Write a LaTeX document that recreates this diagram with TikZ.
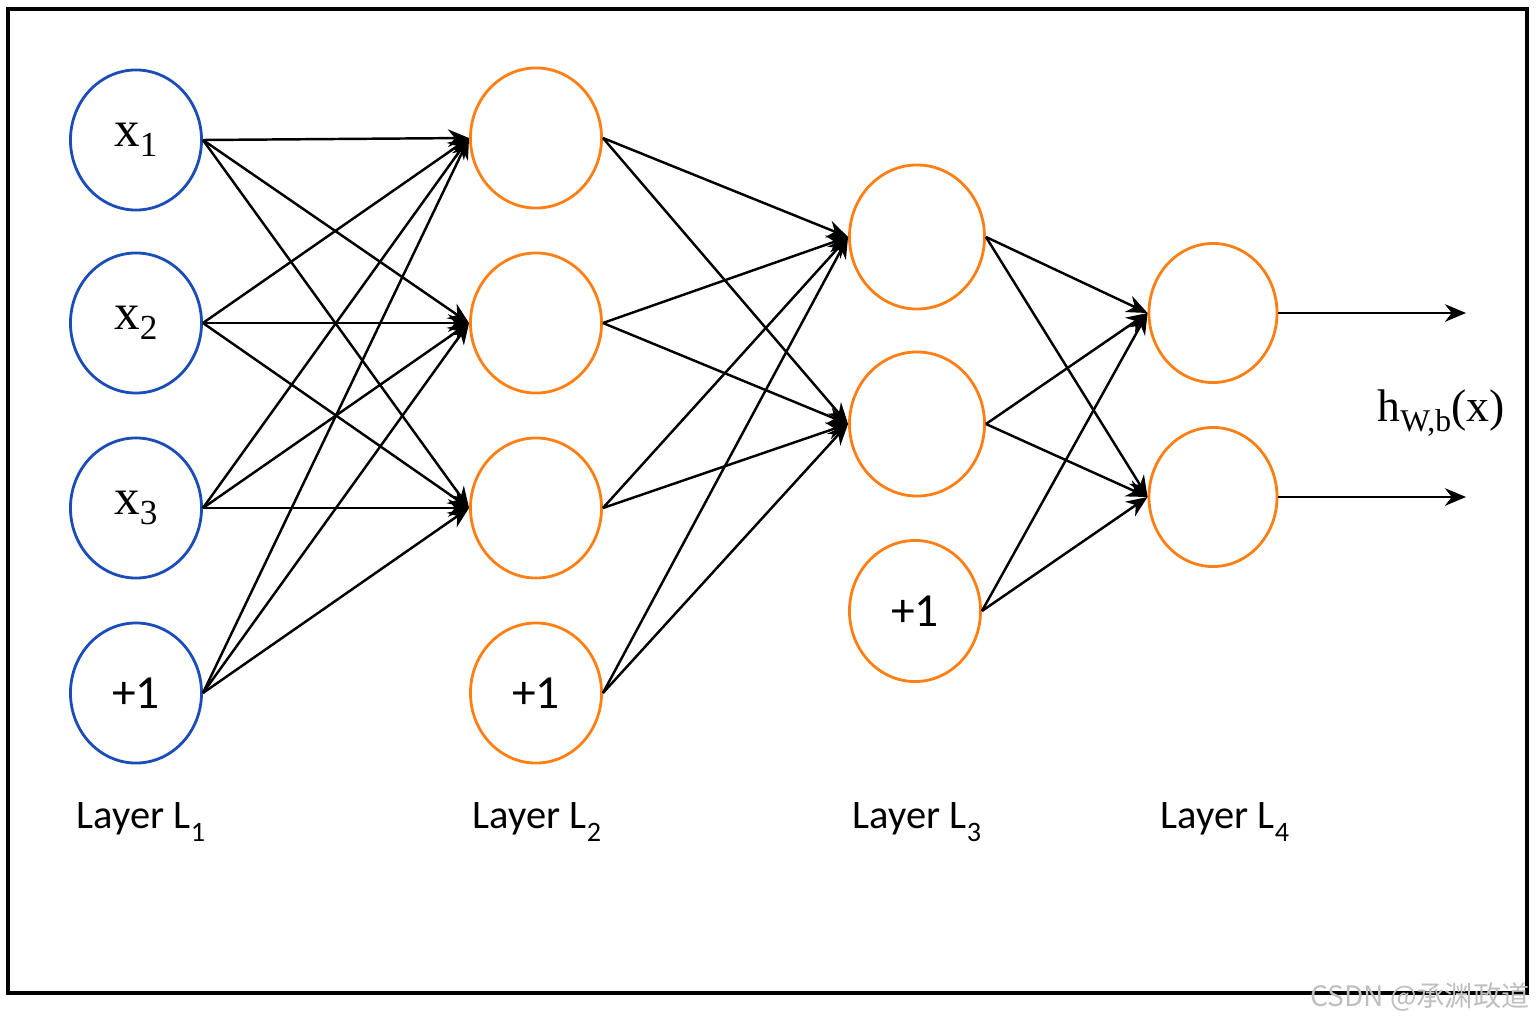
\documentclass[tikz,border=0pt]{standalone}
\usepackage{fontspec}
\setmainfont{Carlito}
\newfontfamily\seriffont{Liberation Serif}
\newfontfamily\cjkfont{Noto Sans CJK SC}
\usetikzlibrary{shapes.geometric,arrows.meta}
\definecolor{nblue}{HTML}{1A4DB8}
\definecolor{norange}{HTML}{FF7F14}
\newcommand{\xin}[1]{{\seriffont\fontsize{14.5}{17}\selectfont x\raisebox{-2.8pt}{\fontsize{10}{12}\selectfont #1}}}
\newcommand{\lay}[1]{\fontsize{11.5}{13}\selectfont Layer L\raisebox{-3.8pt}{\fontsize{8}{9}\selectfont #1}}
\begin{document}
\begin{tikzpicture}[x=0.01cm,y=-0.01cm,
  neuron/.style={ellipse,draw,line width=0.8pt,minimum width=1.31cm,minimum height=1.40cm,inner sep=0pt},
  inp/.style={neuron,draw=nblue},
  hid/.style={neuron,draw=norange},
  bias/.style={font=\fontsize{13.5}{16}\selectfont},
  conn/.style={line width=0.7pt,-{Stealth[length=6pt,width=5pt]}},
  lbl/.style={inner sep=0pt}]
\useasboundingbox (0,0) rectangle (1536,1024);
\fill[white] (0,0) rectangle (1536,1024);
\draw[line width=1pt] (8,9) rectangle (1527,993);
% layer 1
\node[inp] (a1) at (136,140) {\xin{1}};
\node[inp] (a2) at (136,323) {\xin{2}};
\node[inp] (a3) at (136,508) {\xin{3}};
\node[inp,bias] (a4) at (136,693) {+1};
% layer 2
\node[hid] (b1) at (536,138) {};
\node[hid] (b2) at (536,323) {};
\node[hid] (b3) at (536,508) {};
\node[hid,bias] (b4) at (536,693) {+1};
% layer 3
\node[hid,minimum width=1.35cm,minimum height=1.44cm] (c1) at (917,237) {};
\node[hid,minimum width=1.35cm,minimum height=1.44cm] (c2) at (917,424) {};
\node[hid,bias,minimum width=1.31cm,minimum height=1.41cm] (c3) at (915,611) {+1};
% layer 4
\node[hid,minimum width=1.28cm,minimum height=1.39cm] (d1) at (1213,313) {};
\node[hid,minimum width=1.28cm,minimum height=1.39cm] (d2) at (1213,497) {};
\coordinate (o1) at (1466,313);
\coordinate (o2) at (1466,497);
% connections
\foreach \s in {a1,a2,a3,a4}
  \foreach \t in {b1,b2,b3}
    \draw[conn] (\s.east) -- (\t.west);
\foreach \s in {b1,b2,b3,b4}
  \foreach \t in {c1,c2}
    \draw[conn] (\s.east) -- (\t.west);
\foreach \s in {c1,c2,c3}
  \foreach \t in {d1,d2}
    \draw[conn] (\s.east) -- (\t.west);
\draw[conn] (d1.east) -- (o1);
\draw[conn] (d2.east) -- (o2);
% output label
\node[lbl] (hout) at (1441,413) {\seriffont\fontsize{13}{16}\selectfont h\raisebox{-2.6pt}{\fontsize{9}{11}\selectfont W,b}(x)};
% layer labels
\node[lbl] (l1) at (141,822) {\lay{1}};
\node[lbl] (l2) at (537,822) {\lay{2}};
\node[lbl] (l3) at (917,822) {\lay{3}};
\node[lbl] (l4) at (1225,822) {\lay{4}};
% watermark
\node[lbl,text=black!25,anchor=east] (wm) at (1530,997) {\cjkfont\fontsize{8}{10}\selectfont CSDN @承渊政道};
\end{tikzpicture}
\end{document}
